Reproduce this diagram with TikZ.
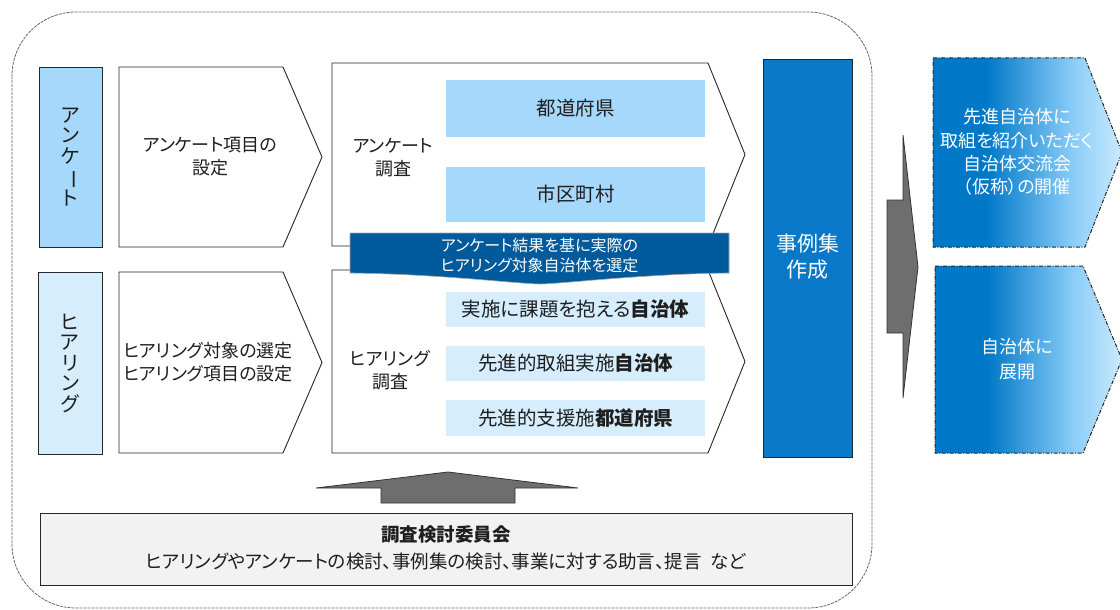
\documentclass[tikz,border=0pt]{standalone}
\usepackage{fontspec}
\setmainfont{Noto Sans CJK JP}[RawFeature=+palt]
\usepackage{graphicx}
\definecolor{ankfill}{HTML}{A5D8FA}
\definecolor{hearfill}{HTML}{D5EDFC}
\definecolor{bannerblue}{HTML}{005A9C}
\definecolor{casefill}{HTML}{0A78C8}
\definecolor{arrgray}{HTML}{6E6E6E}
\definecolor{boxgray}{HTML}{F2F2F2}
\definecolor{gradA}{HTML}{0078C8}
\definecolor{gradB}{HTML}{8ACDF8}
\definecolor{gradC}{HTML}{CBEAFD}
\definecolor{txt}{HTML}{1E1E1E}
\pgfdeclarehorizontalshading{bluefade}{100bp}{color(0bp)=(gradA); color(25bp)=(gradA); color(39bp)=(gradA); color(62bp)=(gradB); color(75bp)=(gradC); color(100bp)=(gradC)}
\newcommand\fsz[2]{\fontsize{#1}{#2}\selectfont}
\begin{document}
\begin{tikzpicture}[x=1pt,y=-1pt,
  outerline/.style={draw=black!60, line width=0.8pt, dash pattern=on 3pt off 1pt, rounded corners=64pt},
  blk/.style={draw=black!85, line width=0.9pt},
  vlab/.style={blk, inner sep=0pt, text=txt, align=center, font=\fsz{20}{20.5}},
  inbox/.style={inner sep=0pt, text=txt, font=\fsz{19.5}{22}},
  tx/.style={text=txt, align=center, inner sep=0pt, font=\fsz{18}{23}},
  wtx/.style={text=white, align=center, inner sep=0pt},
  fadebox/.style={draw=black!85, line width=1pt, dash pattern=on 4pt off 1.5pt on 1pt off 1.5pt, shading=bluefade},
  grayarrow/.style={fill=arrgray, draw=black!80, line width=0.8pt}
]
\useasboundingbox (0,0) rectangle (1120,610);

% outer frame
\draw[outerline] (12,12) rectangle (872,608);

% left vertical labels
\node[vlab, fill=ankfill, minimum width=63pt, minimum height=180pt] (ankL) at (70.5,157)
  {ア\\ン\\ケ\\\rotatebox[origin=c]{-90}{ー}\\ト};
\node[vlab, fill=hearfill, minimum width=64pt, minimum height=182pt] (hearL) at (70,363)
  {ヒ\\ア\\リ\\ン\\グ};

% first column chevrons
\draw[blk, fill=white] (119,67) -- (283,67) -- (322,157) -- (283,247) -- (119,247) -- cycle;
\draw[blk, fill=white] (119,272) -- (283,272) -- (322,362.5) -- (283,453) -- (119,453) -- cycle;
\node[tx] (ankset) at (210,157) {アンケート項目の\\設定};
\node[tx] (hearset) at (208,362) {ヒアリング対象の選定\\ヒアリング項目の設定};

% survey chevrons
\draw[blk, fill=white] (332,63) -- (708,63) -- (745,154.5) -- (708,246) -- (332,246) -- cycle;
\draw[blk, fill=white] (332,270) -- (708,270) -- (745,361.5) -- (708,453) -- (332,453) -- cycle;
\node[tx] (anksurv) at (393,158) {アンケート\\調査};
\node[tx] (hearsurv) at (390,370) {ヒアリング\\調査};

\node[inbox, fill=ankfill, minimum width=259pt, minimum height=57pt] (pref) at (575.5,108.5) {都道府県};
\node[inbox, fill=ankfill, minimum width=259pt, minimum height=55pt] (muni) at (575.5,194.5) {市区町村};
\node[inbox, fill=hearfill, minimum width=259pt, minimum height=35pt] (h1) at (575.5,309.5) {実施に課題を抱える{\bfseries 自治体}};
\node[inbox, fill=hearfill, minimum width=259pt, minimum height=35pt] (h2) at (575.5,363.5) {先進的取組実施{\bfseries 自治体}};
\node[inbox, fill=hearfill, minimum width=259pt, minimum height=36pt] (h3) at (575.5,418) {先進的支援施{\bfseries 都道府県}};

% banner
\draw[fill=bannerblue, draw=gray!70, line width=0.6pt] (350,233) -- (729,233) -- (729,273)
  .. controls (640,274) and (560,284) .. (540,284)
  .. controls (520,284) and (440,274) .. (350,273) -- cycle;
\node[wtx, font=\fsz{16}{20}] (bannertxt) at (539.5,255) {アンケート結果を基に実際の\\ヒアリング対象自治体を選定};

% case book
\node[blk, fill=casefill, minimum width=89pt, minimum height=398pt, inner sep=0pt] (case) at (807.5,258) {};
\node[wtx, font=\fsz{21}{26}] (casetxt) at (807.5,257) {事例集\\作成};

% gray right arrow
\draw[grayarrow] (887,200) -- (903,200) -- (903,135) -- (918,267) -- (903,398) -- (903,333) -- (887,333) -- cycle;

% right faded chevrons
\path[fadebox] (933,58) -- (1085,58) -- (1122,152.5) -- (1085,247) -- (933,247) -- cycle;
\path[fadebox] (935,266) -- (1083,266) -- (1122,359.5) -- (1083,453) -- (935,453) -- cycle;
\node[wtx, font=\fsz{18}{23.3}] (ex1) at (1017,152) {先進自治体に\\取組を紹介いただく\\自治体交流会\\（仮称）の開催};
\node[wtx, font=\fsz{18}{25}] (ex2) at (1017,359) {自治体に\\展開};

% up arrow
\draw[grayarrow] (316,488) -- (448,472) -- (578,488) -- (515,488) -- (515,503) -- (381,503) -- (381,488) -- cycle;

% committee box
\node[blk, fill=boxgray, minimum width=812pt, minimum height=72pt, inner sep=0pt] (comm) at (446,549) {};
\node[tx, font=\fsz{18.5}{27}] (commtxt) at (446,548) {{\bfseries 調査検討委員会}\\ヒアリングやアンケートの検討、事例集の検討、事業に対する助言、提言\hspace{9pt}など};
\end{tikzpicture}
\end{document}
